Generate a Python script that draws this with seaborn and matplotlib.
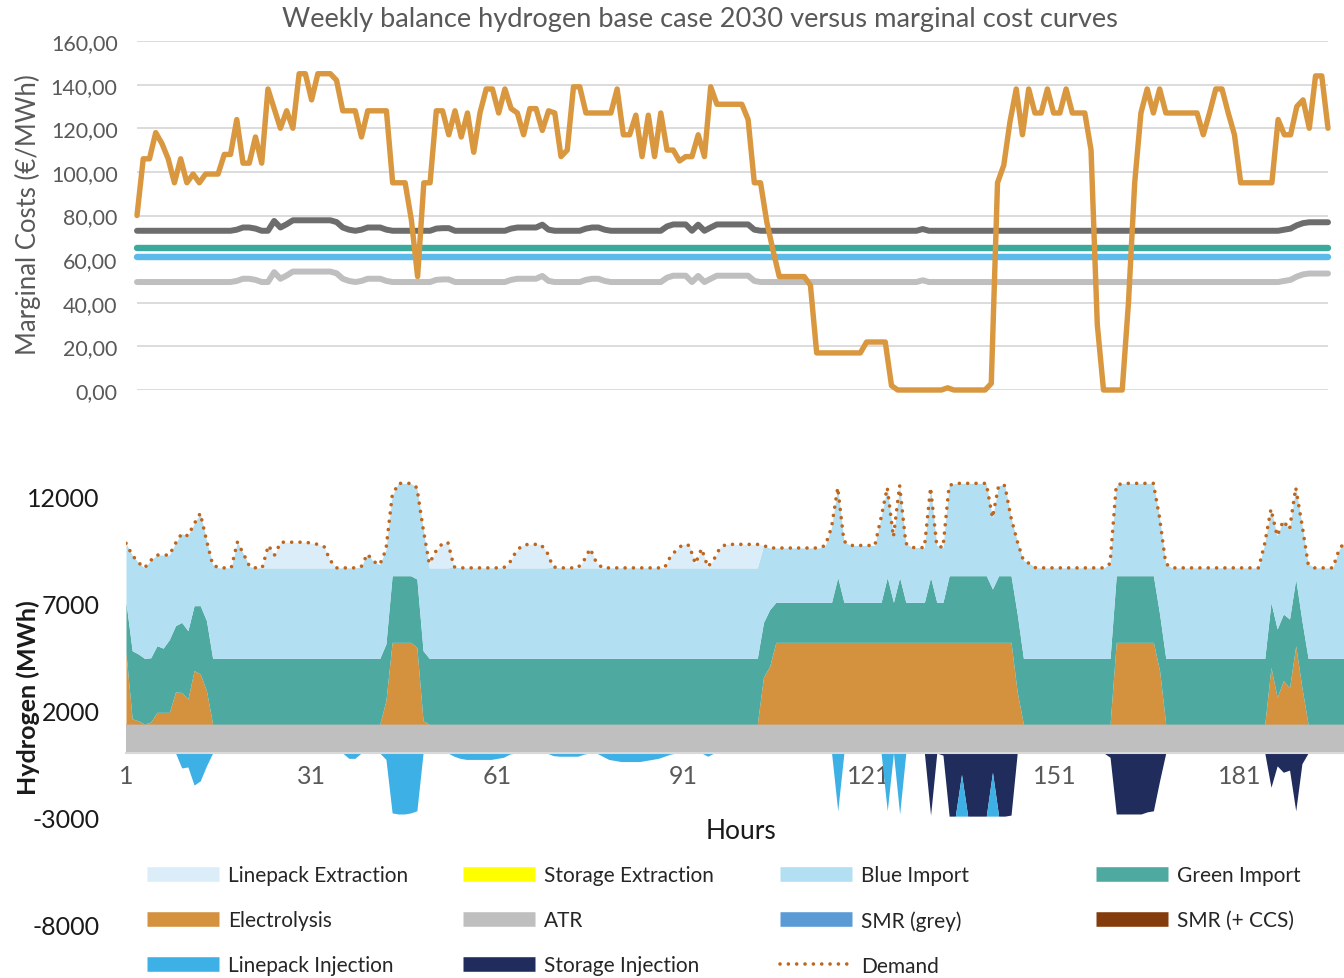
import numpy as np
import pandas as pd
import seaborn as sns
import matplotlib.pyplot as plt
from matplotlib.lines import Line2D

# ---------------- top panel: marginal cost curves (192 hours) ----------------
hours_top = list(range(1, 193))

electrolysis_cost = [
    80, 106, 106, 118, 113, 106, 95, 106, 95, 99,
    95, 99, 99, 99, 108, 108, 124, 104, 104, 116,
    104, 138, 129, 120, 128, 120, 145, 145, 133, 145,
    145, 145, 142, 128, 128, 128, 116, 128, 128, 128,
    128, 95, 95, 95, 78, 52, 95, 95, 128, 128,
    117, 128, 116, 127, 109, 127, 138, 138, 127, 138,
    129, 127, 117, 129, 129, 119, 128, 127, 107, 110,
    139, 139, 127, 127, 127, 127, 127, 138, 117, 117,
    126, 107, 126, 107, 127, 110, 110, 105, 107, 107,
    117, 107, 139, 131, 131, 131, 131, 131, 124, 95,
    95, 77, 64, 52, 52, 52, 52, 52, 48, 17,
    17, 17, 17, 17, 17, 17, 17, 22, 22, 22,
    22, 2, 0, 0, 0, 0, 0, 0, 0, 0,
    1, 0, 0, 0, 0, 0, 0, 3, 95, 103,
    123, 138, 117, 138, 127, 127, 138, 127, 127, 138,
    127, 127, 127, 110, 30, 0, 0, 0, 0, 40,
    95, 127, 138, 127, 138, 127, 127, 127, 127, 127,
    127, 117, 127, 138, 138, 127, 117, 95, 95, 95,
    95, 95, 95, 124, 117, 117, 130, 133, 120, 144,
    144, 120,
]

smr_cost = [
    73, 73, 73, 73, 73, 73, 73, 73, 73, 73,
    73, 73, 73, 73, 73, 73, 73.5, 74.5, 74.5, 74,
    73, 73, 77.5, 74.5, 76, 77.8, 77.8, 77.8, 77.8, 77.8,
    77.8, 77.8, 77, 74.5, 73.5, 73, 73.5, 74.5, 74.5, 74.5,
    73.5, 73, 73, 73, 73, 73, 73, 73, 74, 74.2,
    74.2, 73, 73, 73, 73, 73, 73, 73, 73, 73,
    74, 74.5, 74.5, 74.5, 74.5, 75.8, 73.5, 73, 73, 73,
    73, 73, 74, 74.5, 74.5, 73.5, 73, 73, 73, 73,
    73, 73, 73, 73, 73, 75, 75.9, 75.9, 75.9, 73,
    75.8, 73, 74.5, 75.9, 75.9, 75.9, 75.9, 75.9, 75.9, 73.5,
    73, 73, 73, 73, 73, 73, 73, 73, 73, 73,
    73, 73, 73, 73, 73, 73, 73, 73, 73, 73,
    73, 73, 73, 73, 73, 73, 73.8, 73, 73, 73,
    73, 73, 73, 73, 73, 73, 73, 73, 73, 73,
    73, 73, 73, 73, 73, 73, 73, 73, 73, 73,
    73, 73, 73, 73, 73, 73, 73, 73, 73, 73,
    73, 73, 73, 73, 73, 73, 73, 73, 73, 73,
    73, 73, 73, 73, 73, 73, 73, 73, 73, 73,
    73, 73, 73, 73, 73.5, 74, 75.5, 76.5, 76.9, 76.9,
    76.9, 76.9,
]

atr_cost = [
    49.5, 49.5, 49.5, 49.5, 49.5, 49.5, 49.5, 49.5, 49.5, 49.5,
    49.5, 49.5, 49.5, 49.5, 49.5, 49.5, 50, 51, 51, 50.5,
    49.5, 49.5, 54, 51, 52.5, 54.3, 54.3, 54.3, 54.3, 54.3,
    54.3, 54.3, 53.5, 51, 50, 49.5, 50, 51, 51, 51,
    50, 49.5, 49.5, 49.5, 49.5, 49.5, 49.5, 49.5, 50.5, 50.7,
    50.7, 49.5, 49.5, 49.5, 49.5, 49.5, 49.5, 49.5, 49.5, 49.5,
    50.5, 51, 51, 51, 51, 52.3, 50, 49.5, 49.5, 49.5,
    49.5, 49.5, 50.5, 51, 51, 50, 49.5, 49.5, 49.5, 49.5,
    49.5, 49.5, 49.5, 49.5, 49.5, 51.5, 52.4, 52.4, 52.4, 49.5,
    52.3, 49.5, 51, 52.4, 52.4, 52.4, 52.4, 52.4, 52.4, 50,
    49.5, 49.5, 49.5, 49.5, 49.5, 49.5, 49.5, 49.5, 49.5, 49.5,
    49.5, 49.5, 49.5, 49.5, 49.5, 49.5, 49.5, 49.5, 49.5, 49.5,
    49.5, 49.5, 49.5, 49.5, 49.5, 49.5, 50.3, 49.5, 49.5, 49.5,
    49.5, 49.5, 49.5, 49.5, 49.5, 49.5, 49.5, 49.5, 49.5, 49.5,
    49.5, 49.5, 49.5, 49.5, 49.5, 49.5, 49.5, 49.5, 49.5, 49.5,
    49.5, 49.5, 49.5, 49.5, 49.5, 49.5, 49.5, 49.5, 49.5, 49.5,
    49.5, 49.5, 49.5, 49.5, 49.5, 49.5, 49.5, 49.5, 49.5, 49.5,
    49.5, 49.5, 49.5, 49.5, 49.5, 49.5, 49.5, 49.5, 49.5, 49.5,
    49.5, 49.5, 49.5, 49.5, 50, 50.5, 52, 53, 53.4, 53.4,
    53.4, 53.4,
]

green_import_cost = [65] * 192
blue_import_cost = [61] * 192

# ---------------- bottom panel: hourly hydrogen balance (198 hours) ----------------
hours_bot = list(range(1, 199))

demand = [
    9800, 9250, 8900, 8650, 9000, 9250, 9250, 9250, 9800, 10250,
    10150, 10700, 11200, 9950, 8800, 8650, 8650, 8650, 9850, 9300,
    8700, 8650, 8650, 9700, 9250, 9850, 9850, 9850, 9850, 9850,
    9800, 9750, 9650, 9000, 8650, 8650, 8650, 8650, 8700, 9300,
    8950, 8800, 9500, 12000, 12600, 12600, 12600, 12400, 10500, 8850,
    9400, 9750, 9850, 8700, 8650, 8650, 8650, 8650, 8650, 8650,
    8650, 8650, 8900, 9400, 9700, 9750, 9750, 9750, 9400, 8700,
    8650, 8650, 8650, 8650, 9000, 9550, 8900, 8650, 8650, 8650,
    8650, 8650, 8650, 8650, 8650, 8650, 8650, 8650, 9200, 9500,
    9750, 9700, 8850, 9550, 8700, 9050, 9600, 9750, 9750, 9750,
    9750, 9750, 9750, 9700, 9580, 9580, 9580, 9580, 9580, 9580,
    9580, 9580, 9580, 9700, 10550, 12400, 9900, 9700, 9700, 9700,
    9700, 9700, 11000, 12400, 10100, 12500, 9800, 9600, 9600, 9600,
    12400, 9700, 9600, 12500, 12600, 12600, 12600, 12600, 12600, 12600,
    11000, 12500, 12500, 11000, 9900, 9000, 8850, 8650, 8650, 8650,
    8650, 8650, 8650, 8650, 8650, 8650, 8650, 8650, 8650, 8850,
    12500, 12600, 12600, 12600, 12600, 12600, 12600, 11000, 8850, 8650,
    8650, 8650, 8650, 8650, 8650, 8650, 8650, 8650, 8650, 8650,
    8650, 8650, 8650, 8650, 9800, 11400, 10150, 10850, 10450, 12400,
    10700, 8850, 8650, 8650, 8650, 8650, 9500, 9900,
]

atr = [1350] * 198

electrolysis = [
    3300, 250, 150, 0, 100, 550, 550, 550, 1500, 1480,
    1170, 2500, 2340, 1560, 0, 0, 0, 0, 0, 0,
    0, 0, 0, 0, 0, 0, 0, 0, 0, 0,
    0, 0, 0, 0, 0, 0, 0, 0, 0, 0,
    0, 0, 1100, 3820, 3820, 3820, 3820, 3580, 150, 0,
    0, 0, 0, 0, 0, 0, 0, 0, 0, 0,
    0, 0, 0, 0, 0, 0, 0, 0, 0, 0,
    0, 0, 0, 0, 0, 0, 0, 0, 0, 0,
    0, 0, 0, 0, 0, 0, 0, 0, 0, 0,
    0, 0, 0, 0, 0, 0, 0, 0, 0, 0,
    0, 0, 0, 2200, 2700, 3820, 3820, 3820, 3820, 3820,
    3820, 3820, 3820, 3820, 3820, 3820, 3820, 3820, 3820, 3820,
    3820, 3820, 3820, 3820, 3820, 3820, 3820, 3820, 3820, 3820,
    3820, 3820, 3820, 3820, 3820, 3820, 3820, 3820, 3820, 3820,
    3820, 3820, 3820, 3820, 1500, 0, 0, 0, 0, 0,
    0, 0, 0, 0, 0, 0, 0, 0, 0, 0,
    3820, 3820, 3820, 3820, 3820, 3820, 3820, 2500, 0, 0,
    0, 0, 0, 0, 0, 0, 0, 0, 0, 0,
    0, 0, 0, 0, 0, 2650, 1250, 2030, 1700, 3660,
    1700, 0, 0, 0, 0, 0, 0, 0,
]

green_import = [
    2390, 3180, 3125, 3070, 3000, 3115, 3000, 3400, 3100, 3275,
    3195, 3035, 3195, 3275, 3070, 3070, 3070, 3070, 3070, 3070,
    3070, 3070, 3070, 3070, 3070, 3070, 3070, 3070, 3070, 3070,
    3070, 3070, 3070, 3070, 3070, 3070, 3070, 3070, 3070, 3070,
    3070, 3070, 2650, 3115, 3115, 3115, 3115, 3200, 3280, 3070,
    3070, 3070, 3070, 3070, 3070, 3070, 3070, 3070, 3070, 3070,
    3070, 3070, 3070, 3070, 3070, 3070, 3070, 3070, 3070, 3070,
    3070, 3070, 3070, 3070, 3070, 3070, 3070, 3070, 3070, 3070,
    3070, 3070, 3070, 3070, 3070, 3070, 3070, 3070, 3070, 3070,
    3070, 3070, 3070, 3070, 3070, 3070, 3070, 3070, 3070, 3070,
    3070, 3070, 3070, 2550, 2650, 1870, 1870, 1870, 1870, 1870,
    1870, 1870, 1870, 1870, 1870, 3040, 1870, 1870, 1870, 1870,
    1870, 1870, 1870, 3040, 1870, 3040, 1870, 1870, 1870, 1870,
    3040, 1870, 1870, 3115, 3115, 3115, 3115, 3115, 3115, 3115,
    2495, 3115, 3115, 3115, 3650, 3070, 3070, 3070, 3070, 3070,
    3070, 3070, 3070, 3070, 3070, 3070, 3070, 3070, 3070, 3070,
    3115, 3115, 3115, 3115, 3115, 3115, 3115, 2650, 3070, 3070,
    3070, 3070, 3070, 3070, 3070, 3070, 3070, 3070, 3070, 3070,
    3070, 3070, 3070, 3070, 3070, 3040, 3195, 3115, 3210, 3120,
    3135, 3070, 3070, 3070, 3070, 3070, 3070, 3070,
]

blue_import = [
    2760, 4470, 4275, 4230, 4550, 4235, 4350, 3950, 3850, 4145,
    4435, 3815, 4315, 3765, 4380, 4230, 4230, 4230, 5430, 4880,
    4280, 4230, 4230, 4230, 4230, 4230, 4230, 4230, 4230, 4230,
    4230, 4230, 4230, 4230, 4230, 4230, 4230, 4230, 4280, 4880,
    4530, 4380, 4400, 3715, 4315, 4315, 4315, 4270, 5720, 4230,
    4230, 4230, 4230, 4280, 4230, 4230, 4230, 4230, 4230, 4230,
    4230, 4230, 4230, 4230, 4230, 4230, 4230, 4230, 4230, 4280,
    4230, 4230, 4230, 4230, 4230, 4230, 4230, 4230, 4230, 4230,
    4230, 4230, 4230, 4230, 4230, 4230, 4230, 4230, 4230, 4230,
    4230, 4230, 4230, 4230, 4230, 4230, 4230, 4230, 4230, 4230,
    4230, 4230, 4230, 3600, 2880, 2540, 2540, 2540, 2540, 2540,
    2540, 2540, 2540, 2660, 3510, 4190, 2860, 2660, 2660, 2660,
    2660, 2660, 3960, 4190, 3060, 4290, 2760, 2560, 2560, 2560,
    4190, 2660, 2560, 4215, 4315, 4315, 4315, 4315, 4315, 4315,
    3335, 4215, 4215, 2715, 3400, 4580, 4430, 4230, 4230, 4230,
    4230, 4230, 4230, 4230, 4230, 4230, 4230, 4230, 4230, 4430,
    4215, 4315, 4315, 4315, 4315, 4315, 4315, 4500, 4430, 4230,
    4230, 4230, 4230, 4230, 4230, 4230, 4230, 4230, 4230, 4230,
    4230, 4230, 4230, 4230, 5380, 4360, 4355, 4355, 4190, 4270,
    4515, 4430, 4230, 4230, 4230, 4230, 5080, 5480,
]

linepack_extraction = [
    0, 0, 0, 0, 0, 0, 0, 0, 0, 0,
    0, 0, 0, 0, 0, 0, 0, 0, 0, 0,
    0, 0, 0, 1050, 600, 1200, 1200, 1200, 1200, 1200,
    1150, 1100, 1000, 350, 0, 0, 0, 0, 0, 0,
    0, 0, 0, 0, 0, 0, 0, 0, 0, 200,
    750, 1100, 1200, 0, 0, 0, 0, 0, 0, 0,
    0, 0, 250, 750, 1050, 1100, 1100, 1100, 750, 0,
    0, 0, 0, 0, 350, 900, 250, 0, 0, 0,
    0, 0, 0, 0, 0, 0, 0, 0, 550, 850,
    1100, 1050, 200, 900, 50, 400, 950, 1100, 1100, 1100,
    1100, 1100, 1100, 0, 0, 0, 0, 0, 0, 0,
    0, 0, 0, 0, 0, 0, 0, 0, 0, 0,
    0, 0, 0, 0, 0, 0, 0, 0, 0, 0,
    0, 0, 0, 0, 0, 0, 0, 0, 0, 0,
    0, 0, 0, 0, 0, 0, 0, 0, 0, 0,
    0, 0, 0, 0, 0, 0, 0, 0, 0, 0,
    0, 0, 0, 0, 0, 0, 0, 0, 0, 0,
    0, 0, 0, 0, 0, 0, 0, 0, 0, 0,
    0, 0, 0, 0, 0, 0, 0, 0, 0, 0,
    0, 0, 0, 0, 0, 0, 0, 0,
]

storage_injection = [
    0, 0, 0, 0, 0, 0, 0, 0, 0, 0,
    0, 0, 0, 0, 0, 0, 0, 0, 0, 0,
    0, 0, 0, 0, 0, 0, 0, 0, 0, 0,
    0, 0, 0, 0, 0, 0, 0, 0, 0, 0,
    0, 0, 0, 0, 0, 0, 0, 0, 0, 0,
    0, 0, 0, 0, 0, 0, 0, 0, 0, 0,
    0, 0, 0, 0, 0, 0, 0, 0, 0, 0,
    0, 0, 0, 0, 0, 0, 0, 0, 0, 0,
    0, 0, 0, 0, 0, 0, 0, 0, 0, 0,
    0, 0, 0, 0, 0, 0, 0, 0, 0, 0,
    0, 0, 0, 0, 0, 0, 0, 0, 0, 0,
    0, 0, 0, 0, 0, 0, 0, 0, 0, 0,
    0, 0, 0, 0, 0, 0, 0, 0, 0, 0,
    -2900, 0, -100, -2950, -2950, -1000, -2950, -2950, -2950, -2950,
    -900, -2950, -2950, -2900, 0, 0, 0, 0, 0, 0,
    0, 0, 0, 0, 0, 0, 0, 0, 0, -200,
    -2850, -2850, -2850, -2850, -2850, -2750, -2700, -1300, 0, 0,
    0, 0, 0, 0, 0, 0, 0, 0, 0, 0,
    0, 0, 0, 0, 0, -1600, -600, -900, -800, -2700,
    -500, 0, 0, 0, 0, 0, 0, 0,
]

linepack_injection = [
    0, 0, 0, 0, 0, 0, 0, 0, 0, -700,
    -650, -1500, -1300, -600, 0, 0, 0, 0, 0, 0,
    0, 0, 0, 0, 0, 0, 0, 0, 0, 0,
    0, 0, 0, 0, 0, 0, -250, -250, 0, 0,
    0, 0, -300, -2800, -2850, -2850, -2800, -2700, 0, 0,
    0, 0, 0, -150, -250, -300, -300, -300, -300, -300,
    -250, -200, -50, 0, 0, 0, 0, 0, 0, -120,
    -150, -150, -150, -150, -50, 0, 0, -150, -300, -350,
    -400, -400, -400, -400, -350, -300, -250, -150, -50, 0,
    0, 0, 0, 0, -150, 0, 0, 0, 0, 0,
    0, 0, 0, 0, 0, 0, 0, 0, 0, 0,
    0, 0, 0, 0, 0, -2700, 0, 0, 0, 0,
    0, 0, 0, -2700, 0, -2850, 0, 0, 0, 0,
    0, 0, 0, 0, 0, -1950, 0, 0, 0, 0,
    -2050, 0, 0, 0, 0, 0, 0, 0, 0, 0,
    0, 0, 0, 0, 0, 0, 0, 0, 0, 0,
    0, 0, 0, 0, 0, 0, 0, 0, 0, 0,
    0, 0, 0, 0, 0, 0, 0, 0, 0, 0,
    0, 0, 0, 0, 0, 0, 0, 0, 0, 0,
    0, 0, 0, 0, 0, 0, 0, 0,
]

for name, arr in [("electrolysis_cost", electrolysis_cost), ("smr_cost", smr_cost), ("atr_cost", atr_cost)]:
    assert len(arr) == len(hours_top), (name, len(arr))
for name, arr in [("demand", demand), ("electrolysis", electrolysis), ("green_import", green_import),
                  ("blue_import", blue_import), ("linepack_extraction", linepack_extraction),
                  ("storage_injection", storage_injection), ("linepack_injection", linepack_injection)]:
    assert len(arr) == len(hours_bot), (name, len(arr))

colors = {
    "Linepack Extraction": "#DBEDF8",
    "Storage Extraction": "#FFFF00",
    "Blue Import": "#B3DFF3",
    "Green Import": "#4EA9A0",
    "Electrolysis": "#D4923F",
    "ATR": "#BFBFBF",
    "SMR (grey)": "#5B9BD5",
    "SMR (+ CCS)": "#843C0C",
    "Linepack Injection": "#3DB0E6",
    "Storage Injection": "#1F2C5C",
    "Demand": "#C0661C",
}

sns.set_theme(style="white")
plt.rcParams['font.family'] = ['Lato', 'DejaVu Sans']

W, H = 1344, 979
fig = plt.figure(figsize=(W / 100, H / 100), dpi=100)
fig.patch.set_facecolor("white")

# ---- top axes ----
ax1 = fig.add_axes([137 / W, 1 - 391 / H, (1328 - 137) / W, (391 - 42) / H])
sns.lineplot(x=hours_top, y=atr_cost, color="#BFBFBF", linewidth=4.3, ax=ax1)
sns.lineplot(x=hours_top, y=blue_import_cost, color="#5BBAEA", linewidth=4.6, ax=ax1)
sns.lineplot(x=hours_top, y=green_import_cost, color="#3BA99C", linewidth=4.6, ax=ax1)
sns.lineplot(x=hours_top, y=smr_cost, color="#6D6D6D", linewidth=4.3, ax=ax1)
sns.lineplot(x=hours_top, y=electrolysis_cost, color="#D9983F", linewidth=3.9, ax=ax1)
for ln in ax1.get_lines():
    ln.set_solid_joinstyle("round")
    ln.set_solid_capstyle("round")
    ln.set_clip_on(False)
ax1.set_xlim(1, 192)
ax1.set_ylim(0, 160)
ax1.set_yticks(range(0, 161, 20))
ax1.set_yticklabels([f"{v:.2f}".replace(".", ",") for v in range(0, 161, 20)])
ax1.set_xticks([])
ax1.grid(axis="y", color="#D9D9D9", linewidth=1.3)
ax1.set_axisbelow(True)
for s in ax1.spines.values():
    s.set_visible(False)
ax1.tick_params(axis="y", length=0, pad=14, labelsize=15.5, labelcolor="#595959")
ax1.set_xlabel("")
ax1.set_ylabel("")

# ---- bottom axes ----
ax2 = fig.add_axes([126 / W, 1 - 925.2 / H, (W - 126) / W, (925.2 - 475.8) / H])
pos_labels = ["ATR", "Electrolysis", "Green Import", "Blue Import", "Linepack Extraction"]
ax2.stackplot(hours_bot, atr, electrolysis, green_import, blue_import, linepack_extraction,
              colors=[colors[k] for k in pos_labels], linewidth=0)
neg_labels = ["Storage Injection", "Linepack Injection"]
ax2.stackplot(hours_bot, storage_injection, linepack_injection,
              colors=[colors[k] for k in neg_labels], linewidth=0)
sns.lineplot(x=hours_bot, y=demand, color=colors["Demand"], linewidth=2.6, ax=ax2)
dl = ax2.get_lines()[-1]
dl.set_linestyle((0, (0.01, 2.3)))
dl.set_dash_capstyle("round")

ax2.set_xlim(1, 197.8)
ax2.set_ylim(-8000, 13000)
ax2.set_yticks([-8000, -3000, 2000, 7000, 12000])
ax2.set_yticklabels(["-8000", "-3000", "2000", "7000", "12000"])
ax2.set_xticks(list(range(1, 182, 30)))
ax2.set_xticklabels([str(v) for v in range(1, 182, 30)])
for k in ["left", "right", "top"]:
    ax2.spines[k].set_visible(False)
ax2.spines["bottom"].set_position(("data", 0))
ax2.spines["bottom"].set_color("#D9D9D9")
ax2.spines["bottom"].set_linewidth(1.5)
ax2.tick_params(axis="y", length=0, pad=19, labelsize=18, labelcolor="#1A1A1A")
ax2.tick_params(axis="x", length=0, pad=8, labelsize=18, labelcolor="#595959")
ax2.set_xlabel("")
ax2.set_ylabel("")

# ---- texts ----
fig.text(700 / W, 1 - 20 / H, "Weekly balance hydrogen base case 2030 versus marginal cost curves",
         ha="center", va="center", fontsize=19.6, color="#595959")
fig.text(28 / W, 1 - 215 / H, "Marginal Costs (€/MWh)", rotation=90, ha="center", va="center",
         fontsize=18.5, color="#595959")
fig.text(28 / W, 1 - 698 / H, "Hydrogen (MWh)", rotation=90, ha="center", va="center",
         fontsize=18, fontweight="bold", color="#1A1A1A")
fig.text(741 / W, 1 - 832 / H, "Hours", ha="center", va="center", fontsize=19, color="#1A1A1A")

# ---- legend: four columns anchored like the original ----
def handle(name):
    if name == "Demand":
        return Line2D([], [], color=colors[name], linewidth=2.6, linestyle=(0, (0.01, 2.3)),
                      dash_capstyle="round")
    return Line2D([], [], color=colors[name], linewidth=10.5, solid_capstyle="butt")

legend_columns = [
    (147, ["Linepack Extraction", "Electrolysis", "Linepack Injection"]),
    (463, ["Storage Extraction", "ATR", "Storage Injection"]),
    (780, ["Blue Import", "SMR (grey)", "Demand"]),
    (1096, ["Green Import", "SMR (+ CCS)"]),
]
for x0, names in legend_columns:
    fig.legend([handle(n) for n in names], names, loc="upper left",
               bbox_to_anchor=(x0 / W, 1 - 866 / H), frameon=False, fontsize=15,
               handlelength=3.45, handletextpad=0.45, labelspacing=1.2,
               borderpad=0, borderaxespad=0, labelcolor="#262626")

fig.savefig("out.png", dpi=100, facecolor="white")
